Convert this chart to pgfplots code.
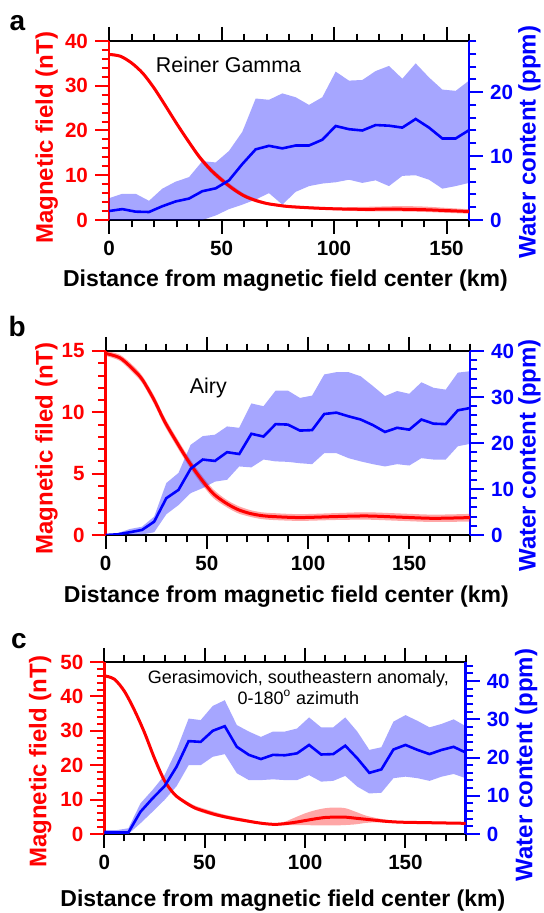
\documentclass[border=0pt]{standalone}
\usepackage{fontspec}
\setmainfont{Liberation Sans}
\usepackage{pgfplots}
\usepackage{pgfplotstable}
\pgfplotsset{compat=1.18}
\usepgfplotslibrary{fillbetween}

% magnetic field profiles (nT): x, line, band top, band bottom
\pgfplotstableread{
x y up lo
0 37.0 37.3 36.7
5 36.6 36.9 36.3
10 35.1 35.4 34.8
15 32.8 33.1 32.5
20 29.5 29.8 29.2
25 25.6 25.9 25.3
30 21.6 21.9 21.2
35 17.8 18.3 17.3
40 14.2 14.8 13.6
45 11.3 11.9 10.7
50 9.0 9.6 8.4
55 7.0 7.6 6.5
60 5.4 5.9 5.0
65 4.4 4.8 4.0
70 3.7 4.0 3.4
75 3.3 3.6 3.0
80 3.0 3.3 2.7
90 2.7 3.0 2.4
100 2.5 2.8 2.2
110 2.4 2.9 2.0
120 2.4 3.0 1.9
130 2.4 3.1 1.9
140 2.3 3.0 1.8
150 2.1 2.7 1.6
160 1.9 2.4 1.4
}\redA
\pgfplotstableread{
x y up lo
0 14.8 15.0 14.6
7 14.45 14.7 14.2
13 13.6 13.9 13.3
18 12.7 13.0 12.4
24 11.0 11.35 10.65
29 9.3 9.65 8.95
35 7.6 7.95 7.25
41 6.0 6.35 5.65
47 4.6 4.95 4.25
53 3.4 3.75 3.05
59 2.65 2.95 2.35
65 2.1 2.4 1.8
71 1.77 2.05 1.5
77 1.58 1.85 1.3
83 1.5 1.78 1.22
96 1.42 1.7 1.15
113 1.5 1.78 1.22
129 1.55 1.85 1.25
146 1.45 1.75 1.15
162 1.36 1.66 1.06
180 1.42 1.72 1.1
}\redB
\pgfplotstableread{
x y up lo
0 46.0 46.3 45.7
5 45.0 45.3 44.7
10 41.5 41.8 41.2
15 36.0 36.3 35.7
20 29.5 29.8 29.2
25 22.0 22.3 21.7
30 15.5 15.9 15.1
35 11.5 12.0 11.0
40 9.3 9.9 8.8
45 7.6 8.3 7.1
50 6.6 7.3 6.0
55 5.7 6.4 5.2
60 5.0 5.6 4.5
65 4.4 5.0 4.0
70 3.9 4.4 3.5
75 3.4 3.8 3.1
80 3.0 3.3 2.7
85 2.8 3.1 2.5
90 3.0 3.6 2.6
95 3.4 4.8 2.6
100 3.9 6.0 2.6
105 4.4 6.9 2.5
110 4.8 7.5 2.5
115 4.9 7.7 2.5
120 4.9 7.5 2.6
125 4.6 6.5 2.8
130 4.3 5.4 3.2
135 4.0 4.7 3.4
140 3.7 4.2 3.3
145 3.5 3.8 3.2
150 3.4 3.7 3.1
160 3.3 3.6 3.0
170 3.2 3.5 2.9
180 3.1 3.4 2.8
}\redC

% water content (ppm): x, mean, band top, band bottom
\pgfplotstableread{
x y up lo
0 1.4 3.4 0
5.93 1.7 4.1 0
11.85 1.3 4.1 0
17.78 1.25 3.0 0
23.70 2.15 4.9 0
29.63 2.9 6.0 0
35.56 3.35 6.7 0
41.48 4.5 9.2 0
47.41 4.95 9.0 0.7
53.33 6.2 10.8 1.7
59.26 8.75 13.8 2.4
65.19 11.05 19.0 3.2
71.11 11.6 18.8 4.2
77.04 11.2 19.8 2.4
82.96 11.65 19.2 4.4
88.89 11.65 18.0 5.3
94.81 12.55 19.2 5.7
100.74 14.7 23.2 5.9
106.67 14.2 21.8 6.3
112.59 14.0 21.9 5.8
118.52 14.85 23.3 6.2
124.44 14.75 24.1 5.3
130.37 14.45 22.1 6.9
136.30 15.8 24.5 7.0
142.22 14.45 22.3 6.3
148.15 12.75 20.4 4.9
154.07 12.75 20.2 5.3
160 14.05 21.8 5.8
}\bluA
\pgfplotstableread{
x y up lo
0 0 0 0
6 0.15 0.4 0
12 0.6 1.3 0
18 1.1 1.8 0.1
24 2.9 4.0 0.6
30 8.0 11.3 4.5
36 9.8 13.5 6.5
42 14.4 19.6 9.1
48 16.4 21.5 10.2
54 16.1 21.8 11.6
60 18.0 23.6 12.0
66 17.6 23.3 14.9
72 22.0 28.6 14.7
78 21.4 28.0 16.4
84 24.1 31.4 16.0
90 24.0 31.4 15.9
96 22.7 29.8 15.6
102 22.8 30.3 15.4
108 26.3 34.9 17.8
114 26.6 35.4 17.8
120 25.8 35.4 16.7
126 25.1 34.5 16.0
132 23.9 32.4 15.4
138 22.4 30.2 14.9
144 23.3 31.3 15.4
150 22.9 30.7 15.1
156 25.1 33.2 16.7
162 24.2 32.0 16.4
168 24.1 31.6 16.4
174 27.1 35.3 19.3
180 27.6 35.6 19.8
}\bluB
\pgfplotstableread{
x y up lo
0 0.4 1.0 0
6 0.4 1.0 0
12 0.4 1.5 0
18 5.8 8.0 2.8
24 9.3 11.5 5.8
30 12.5 15.4 8.9
36 17.6 22.0 12.5
42 24.3 30.2 18.0
48 24.1 29.8 18.0
54 27.0 33.5 20.2
60 28.2 35.0 20.9
66 22.8 28.5 15.9
72 20.7 26.8 14.1
78 19.6 25.4 14.1
84 20.7 26.8 14.3
90 20.6 26.8 14.1
96 21.1 27.6 14.1
102 23.3 30.5 15.4
108 20.8 27.9 13.7
114 20.9 27.9 13.9
120 23.1 30.5 15.2
126 19.8 26.8 12.4
132 16.0 22.0 10.6
138 16.9 22.7 10.8
144 22.1 29.4 14.6
150 23.3 31.1 15.0
156 22.0 29.6 14.6
162 20.9 27.9 13.9
168 22.0 28.8 15.0
174 22.8 30.0 15.7
180 21.3 28.2 14.6
}\bluC

\pgfplotsset{
  base/.style={scale only axis, tick align=outside,
    major tick length=7pt, minor tick length=3.7pt,
    axis line style={line width=1.25pt},
    tick label style={font=\fontsize{10.3}{12}\selectfont\bfseries},
    /pgf/number format/assume math mode=true,
    label style={font=\fontsize{12}{14}\selectfont\bfseries}},
  leftax/.style={base, separate axis lines,
    xtick pos=both, xticklabel pos=lower, ytick pos=left,
    x axis line style={black}, y axis line style={red},
    every x tick/.style={black, line width=1pt},
    every y tick/.style={red, line width=1pt},
    yticklabel style={red}, ylabel style={red},
    xlabel style={font=\fontsize{11.5}{13}\selectfont\bfseries}},
  rightax/.style={base, axis y line*=right, axis x line=none, xtick=\empty,
    y axis line style={blue},
    every y tick/.style={blue, line width=1pt},
    yticklabel style={blue}, ylabel style={blue}},
  redline/.style={red, line width=1.5pt, smooth},
  blueline/.style={blue, line width=1.3pt},
}

\begin{document}
\begin{tikzpicture}

% ---- a ----
\begin{axis}[leftax, at={(54.5pt,346.5pt)}, width=180pt, height=89.5pt,
  xmin=0, xmax=160, ymin=0, ymax=40,
  xtick={0,50,100,150}, minor xtick={0,10,...,160},
  ytick={0,10,...,40}, minor ytick={0,2,...,40},
  xlabel={Distance from magnetic field center (km)},
  xlabel style={at={(axis description cs:0.49,-0.339)}, anchor=center},
  ylabel={Magnetic field (nT)},
  ylabel style={at={(axis description cs:-0.173,0.459)}, anchor=center}]
\addplot[draw=none, smooth, name path=rau] table[x=x,y=up] {\redA};
\addplot[draw=none, smooth, name path=ral] table[x=x,y=lo] {\redA};
\addplot[fill=red, fill opacity=0.35, draw=none] fill between[of=rau and ral];
\addplot[redline] table[x=x,y=y] {\redA};
\node[font=\fontsize{10.7}{12}\selectfont] at (axis description cs:0.332,0.867) {Reiner Gamma};
\end{axis}
\begin{axis}[rightax, at={(54.5pt,346.5pt)}, width=180pt, height=89.5pt,
  xmin=0, xmax=160, ymin=0, ymax=28,
  ytick={0,10,20}, minor ytick={0,2,...,28},
  ylabel={Water content (ppm)},
  ylabel style={at={(axis description cs:1.168,0.435)}, anchor=center}]
\addplot[draw=none, name path=bau] table[x=x,y=up] {\bluA};
\addplot[draw=none, name path=bal] table[x=x,y=lo] {\bluA};
\addplot[fill=blue, fill opacity=0.35, draw=none] fill between[of=bau and bal];
\addplot[blueline] table[x=x,y=y] {\bluA};
\end{axis}

% ---- b ----
\begin{axis}[leftax, at={(52.8pt,189pt)}, width=182.2pt, height=92pt,
  xmin=0, xmax=180, ymin=0, ymax=15,
  xtick={0,50,100,150}, minor xtick={0,10,...,180},
  ytick={0,5,10,15}, minor ytick={0,1,...,15},
  xlabel={Distance from magnetic field center (km)},
  xlabel style={at={(axis description cs:0.496,-0.333)}, anchor=center},
  ylabel={Magnetic filed (nT)},
  ylabel style={at={(axis description cs:-0.162,0.47)}, anchor=center}]
\addplot[draw=none, smooth, name path=rbu] table[x=x,y=up] {\redB};
\addplot[draw=none, smooth, name path=rbl] table[x=x,y=lo] {\redB};
\addplot[fill=red, fill opacity=0.35, draw=none] fill between[of=rbu and rbl];
\addplot[redline] table[x=x,y=y] {\redB};
\node[font=\fontsize{10.7}{12}\selectfont] at (axis description cs:0.282,0.80) {Airy};
\end{axis}
\begin{axis}[rightax, at={(52.8pt,189pt)}, width=182.2pt, height=92pt,
  xmin=0, xmax=180, ymin=0, ymax=40,
  ytick={0,10,...,40}, minor ytick={0,2,...,40},
  ylabel={Water content (ppm)},
  ylabel style={at={(axis description cs:1.163,0.433)}, anchor=center}]
\addplot[draw=none, name path=bbu] table[x=x,y=up] {\bluB};
\addplot[draw=none, name path=bbl] table[x=x,y=lo] {\bluB};
\addplot[fill=blue, fill opacity=0.35, draw=none] fill between[of=bbu and bbl];
\addplot[blueline] table[x=x,y=y] {\bluB};
\end{axis}

% ---- c ----
\begin{axis}[leftax, at={(52.15pt,39.5pt)}, width=180.7pt, height=86pt,
  xmin=0, xmax=180, ymin=0, ymax=50,
  xtick={0,50,100,150}, minor xtick={0,10,...,180},
  ytick={0,10,...,50}, minor ytick={0,2,...,50},
  xlabel={Distance from magnetic field center (km)},
  xlabel style={at={(axis description cs:0.494,-0.385)}, anchor=center},
  ylabel={Magnetic field (nT)},
  ylabel style={at={(axis description cs:-0.177,0.42)}, anchor=center}]
\addplot[draw=none, smooth, name path=rcu] table[x=x,y=up] {\redC};
\addplot[draw=none, smooth, name path=rcl] table[x=x,y=lo] {\redC};
\addplot[fill=red, fill opacity=0.35, draw=none] fill between[of=rcu and rcl];
\addplot[redline] table[x=x,y=y] {\redC};
\node[font=\fontsize{9}{10.3}\selectfont, align=center] at (axis description cs:0.537,0.853)
  {Gerasimovich, southeastern anomaly,\\0-180\textsuperscript{o} azimuth};
\end{axis}
\begin{axis}[rightax, at={(52.15pt,39.5pt)}, width=180.7pt, height=86pt,
  xmin=0, xmax=180, ymin=0, ymax=45,
  ytick={0,10,...,40}, minor ytick={0,2,...,44},
  ylabel={Water content (ppm)},
  ylabel style={at={(axis description cs:1.167,0.40)}, anchor=center}]
\addplot[draw=none, name path=bcu] table[x=x,y=up] {\bluC};
\addplot[draw=none, name path=bcl] table[x=x,y=lo] {\bluC};
\addplot[fill=blue, fill opacity=0.35, draw=none] fill between[of=bcu and bcl];
\addplot[blueline] table[x=x,y=y] {\bluC};
\end{axis}

\node[font=\fontsize{14}{16}\selectfont\bfseries] at (8.65pt,445pt) {a};
\node[font=\fontsize{14}{16}\selectfont\bfseries] at (8.65pt,293pt) {b};
\node[font=\fontsize{14}{16}\selectfont\bfseries] at (9.5pt,135.8pt) {c};
\pgfresetboundingbox
\useasboundingbox (0,0) rectangle (271.5pt,456.5pt);
\end{tikzpicture}
\end{document}
